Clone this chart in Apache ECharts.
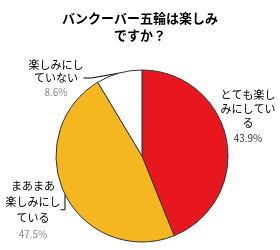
<!DOCTYPE html>
<html>
<head>
<meta charset="utf-8">
<script src="https://cdn.jsdelivr.net/npm/echarts@6/dist/echarts.min.js"></script>
<style>
  html, body { margin: 0; padding: 0; background: #fff; }
  #chart { width: 280px; height: 250px; }
</style>
</head>
<body>
<div id="chart"></div>
<script>
const TITLE = "バンクーバー五輪は楽しみ\nですか？";
const labels = ["とても楽し\nみにしてい\nる", "まあまあ\n楽しみにし\nている", "楽しみにし\nていない"];
const values = [43.9, 47.5, 8.6];
const colors = ["#e8161e", "#f4b720", "#ffffff"];

// label anchor spots (x, y of top line) and per-label styling
const labelSpots = [
  { x: 248, y: 88, lh: 14, pc: "#333", line: false },
  { x: 33, y: 178, lh: 16, pc: "#888", line: true },
  { x: 56, y: 58, lh: 13, pc: "#888", line: true },
];

const chart = echarts.init(document.getElementById("chart"), undefined, { renderer: "canvas" });

const richFor = (s) => ({
  n: { fontFamily: "Noto Sans CJK JP", fontSize: 11, color: "#000", lineHeight: s.lh, align: "center" },
  p: { fontFamily: "Noto Sans CJK JP", fontSize: 10, color: s.pc, lineHeight: 16, align: "center" },
});

chart.setOption({
  backgroundColor: "#fff",
  animation: false,
  title: {
    text: TITLE,
    left: "center",
    top: 5,
    textStyle: {
      fontFamily: "Noto Sans CJK JP",
      fontSize: 13,
      fontWeight: "bold",
      color: "#000",
      lineHeight: 17,
    },
  },
  series: [{
    type: "pie",
    center: [142, 156],
    radius: 86,
    startAngle: 90,
    clockwise: true,
    avoidLabelOverlap: false,
    data: labels.map((name, i) => ({
      name,
      value: values[i],
      itemStyle: { color: colors[i] },
      label: { rich: richFor(labelSpots[i]) },
      labelLine: { show: labelSpots[i].line },
    })),
    itemStyle: { borderColor: "#333", borderWidth: 1 },
    emphasis: { disabled: true },
    label: {
      show: true,
      position: "outside",
      overflow: "none",
      bleedMargin: 0,
      formatter: (p) => `{n|${p.name}}\n{p|${p.value.toFixed(1)}%}`,
    },
    labelLine: { show: true, length: 6, length2: 8, lineStyle: { color: "#000", width: 1 } },
    labelLayout: (params) => {
      const s = labelSpots[params.dataIndex];
      return { x: s.x, y: s.y, align: "center", verticalAlign: "top" };
    },
  }],
});
</script>
</body>
</html>
